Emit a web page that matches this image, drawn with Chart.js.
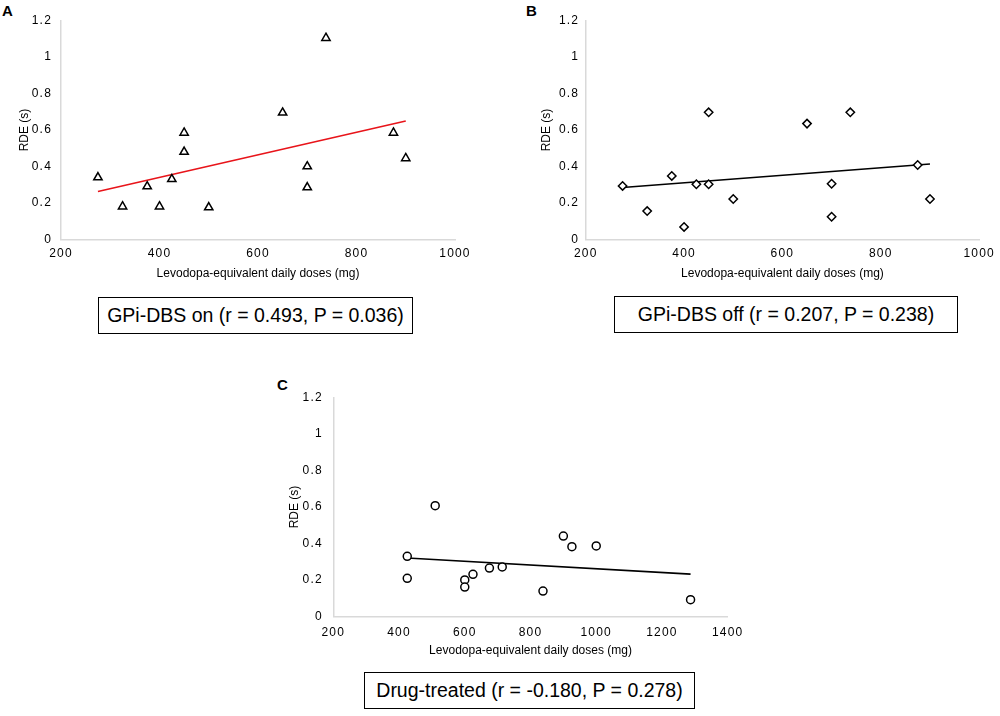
<!DOCTYPE html>
<html>
<head>
<meta charset="utf-8">
<script src="https://cdn.jsdelivr.net/npm/chart.js@4.4.1/dist/chart.umd.min.js"></script>
<style>
  body { margin: 0; background: #fff; width: 1000px; height: 716px; position: relative; overflow: hidden;
         font-family: "Liberation Sans", Arial, sans-serif; }
  .wrap { position: absolute; }
  .tag { position: absolute; font-weight: bold; font-size: 15px; line-height: 15px; color: #000; }
  .box { position: absolute; box-sizing: border-box; border: 1.5px solid #000; background: #fff; color: #000;
         font-size: 19.5px; display: flex; align-items: center; justify-content: center; white-space: nowrap; }
</style>
</head>
<body>
<div class="tag" style="left:2px;top:3px">A</div>
<div class="tag" style="left:526px;top:3px">B</div>
<div class="tag" style="left:277px;top:377px">C</div>

<div class="wrap" style="left:0;top:0;width:500px;height:285px"><canvas id="chartA"></canvas></div>
<div class="wrap" style="left:500px;top:0;width:500px;height:285px"><canvas id="chartB"></canvas></div>
<div class="wrap" style="left:260px;top:340px;width:500px;height:325px"><canvas id="chartC"></canvas></div>

<div class="box" style="left:98px;top:297px;width:315px;height:37px">GPi-DBS on (r = 0.493, P = 0.036)</div>
<div class="box" style="left:614px;top:296px;width:344px;height:37px">GPi-DBS off (r = 0.207, P = 0.238)</div>
<div class="box" style="left:364px;top:672px;width:331px;height:37px">Drug-treated (r = -0.180, P = 0.278)</div>

<script>
// ---- data
const doseDBS = [275, 325, 375, 400, 425, 450, 450, 500, 650, 700, 700, 738, 875, 900]
const rdeOn   = [0.34, 0.18, 0.29, 0.18, 0.33, 0.585, 0.48, 0.175, 0.695, 0.40, 0.285, 1.105, 0.585, 0.445]
const rdeOff  = [0.293, 0.155, 0.348, 0.068, 0.302, 0.302, 0.697, 0.221, 0.635, 0.305, 0.124, 0.697, 0.408, 0.221]

const doseDrug = [425, 425, 510, 600, 600, 625, 675, 714, 838, 900, 926, 1000, 1287]
const rdeDrug  = [0.33, 0.21, 0.607, 0.201, 0.162, 0.232, 0.266, 0.272, 0.14, 0.441, 0.383, 0.387, 0.093]

// trend line end points
const trendOnX   = [275, 900]
const trendOnY   = [0.262, 0.649]
const trendOffX  = [275, 900]
const trendOffY  = [0.284, 0.413]
const trendDrugX = [425, 1287]
const trendDrugY = [0.321, 0.233]

const xLabelsDBS  = ['200', '400', '600', '800', '1000']
const xLabelsDrug = ['200', '400', '600', '800', '1000', '1200', '1400']
const yLabels     = ['0', '0.2', '0.4', '0.6', '0.8', '1', '1.2']

const xTitle = 'Levodopa-equivalent daily doses (mg)'
const yTitle = 'RDE (s)'

function pts(xs, ys) {
  return xs.map((x, i) => ({ x: x, y: ys[i] }))
}

// tick labels in the figure are a bit spread out
const tickSpacing = {
  id: 'tickSpacing',
  afterDatasetsDraw(chart) { chart.ctx.letterSpacing = '1.2px' },
  afterDraw(chart) { chart.ctx.letterSpacing = '0px' }
}

const fontFam = '"Liberation Sans", Arial, sans-serif'
const axisGrey = '#d9d9d9'

function scatterChart(id, o) {
  const ctx = document.getElementById(id).getContext('2d')
  return new Chart(ctx, {
    type: 'scatter',
    data: {
      datasets: [{
        data: pts(o.xs, o.ys),
        pointStyle: o.marker,
        pointRadius: o.radius,
        pointBackgroundColor: '#fff',
        pointBorderColor: '#000',
        pointBorderWidth: 1.5,
        order: 1
      }, {
        type: 'line',
        data: pts(o.tx, o.ty),
        borderColor: o.lineColor,
        borderWidth: 1.6,
        pointRadius: 0,
        fill: false,
        order: 2
      }]
    },
    plugins: [tickSpacing],
    options: {
      responsive: true,
      maintainAspectRatio: false,
      animation: false,
      layout: { padding: { left: 0, top: o.padTop, right: o.padRight, bottom: 0 } },
      plugins: { legend: { display: false }, tooltip: { enabled: false } },
      scales: {
        x: {
          type: 'linear',
          min: o.xLabels[0] * 1,
          max: o.xLabels[o.xLabels.length - 1] * 1,
          ticks: {
            stepSize: 200, padding: o.xTickPad, color: '#000', z: 1,
            font: { family: fontFam, size: 12 },
            callback: (v, i) => o.xLabels[i]
          },
          grid: { display: false, drawTicks: false },
          border: { color: axisGrey, width: 1.5 },
          title: {
            display: true, text: xTitle, color: '#000',
            font: { family: fontFam, size: 12 },
            padding: { top: 0, bottom: o.xTitlePad }
          },
          afterFit: s => { s.height = o.xHeight }
        },
        y: {
          min: 0,
          max: 1.2,
          ticks: {
            stepSize: 0.2, padding: o.yTickPad, color: '#000', z: 1,
            font: { family: fontFam, size: 12 },
            callback: (v, i) => yLabels[i]
          },
          grid: { display: false, drawTicks: false },
          border: { color: axisGrey, width: 1.5 },
          title: {
            display: true, text: yTitle, color: '#000',
            font: { family: fontFam, size: 12 },
            padding: { top: o.yTitlePad, bottom: 0 }
          },
          afterFit: s => { s.width = o.yWidth }
        }
      }
    }
  })
}

// A: GPi-DBS on
scatterChart('chartA', {
  xs: doseDBS, ys: rdeOn, tx: trendOnX, ty: trendOnY,
  marker: 'triangle', radius: 4.8, lineColor: '#e8141a',
  xLabels: xLabelsDBS,
  padTop: 20.7, padRight: 45, yWidth: 61, xHeight: 45.7,
  xTickPad: 7.5, yTickPad: 9, xTitlePad: 4.3, yTitlePad: 17.8
})

// B: GPi-DBS off
scatterChart('chartB', {
  xs: doseDBS, ys: rdeOff, tx: trendOffX, ty: trendOffY,
  marker: 'rectRot', radius: 4.2, lineColor: '#000',
  xLabels: xLabelsDBS,
  padTop: 20.7, padRight: 20, yWidth: 85.7, xHeight: 45.7,
  xTickPad: 7.5, yTickPad: 6.5, xTitlePad: 4.3, yTitlePad: 39.5
})

// C: drug treated
scatterChart('chartC', {
  xs: doseDrug, ys: rdeDrug, tx: trendDrugX, ty: trendDrugY,
  marker: 'circle', radius: 4, lineColor: '#000',
  xLabels: xLabelsDrug,
  padTop: 57.3, padRight: 32.3, yWidth: 73.3, xHeight: 48.3,
  xTickPad: 8.5, yTickPad: 10.5, xTitlePad: 6.8, yTitlePad: 27.8
})
</script>
</body>
</html>
